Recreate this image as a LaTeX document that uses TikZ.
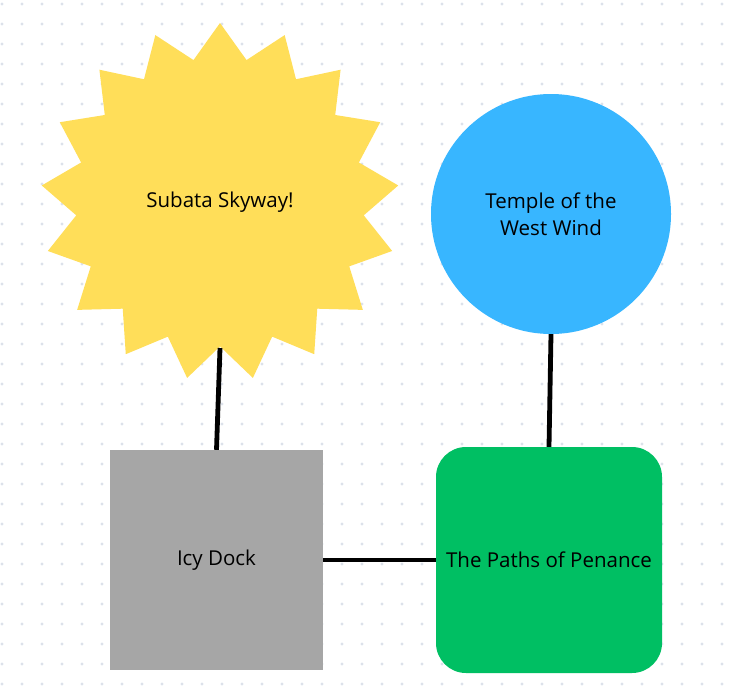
\documentclass[tikz,border=0pt]{standalone}
\usepackage{fontspec}
\setmainfont{Open Sans}
\usepackage{tikz}
\usetikzlibrary{shapes.geometric}

\definecolor{skyyellow}{HTML}{FFDE59}
\definecolor{templeblue}{HTML}{38B6FF}
\definecolor{dockgray}{HTML}{A6A6A6}
\definecolor{penancegreen}{HTML}{00BF63}
\definecolor{griddot}{HTML}{DCE1EA}

\begin{document}
\begin{tikzpicture}[
    x = 1pt, y = -1pt,
    link/.style = {line width = 4.8pt, black},
    place/.style = {font = \fontsize{20.5}{27}\selectfont, text = black,
      align = center, inner sep = 0pt}
    ]
    \useasboundingbox [fill = white] (0, 0) rectangle (738, 688);
    % dotted background
    \foreach \gx in {2, 22, ..., 738}
      \foreach \gy in {4, 24, ..., 688}
        \fill [griddot] (\gx, \gy) circle (1.6);

    \node at (220, 202) [place, name = sky, star, star points = 17,
      star point ratio = 1.24, minimum size = 358pt, fill = skyyellow]
      {Subata Skyway!};
    \node at (551, 214) [place, name = temple, circle,
      minimum size = 240pt, fill = templeblue] {Temple of the\\West Wind};
    \node at (216.5, 560) [place, name = dock, rectangle,
      minimum width = 213pt, minimum height = 220pt, fill = dockgray]
      {Icy Dock};
    \node at (549, 560) [place, name = paths, rectangle,
      rounded corners = 30pt, minimum width = 226pt,
      minimum height = 226pt, fill = penancegreen] {The Paths of Penance};
    \coordinate (skyfoot) at (220, 348);

    \draw [link] (skyfoot) to (dock.north);
    \draw [link] (temple.south) to (paths.north);
    \draw [link] (dock.east) to (paths.west);
  \end{tikzpicture}
\end{document}
